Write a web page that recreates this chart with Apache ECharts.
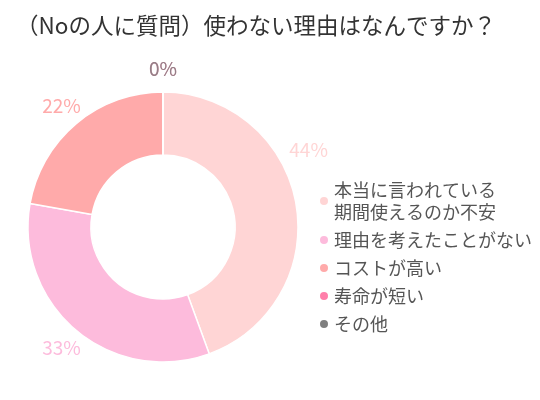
<!DOCTYPE html>
<html>
<head>
<meta charset="utf-8">
<script src="https://cdn.jsdelivr.net/npm/echarts@6/dist/echarts.min.js"></script>
<style>
  html, body { margin: 0; padding: 0; background: #fff; }
  #main { width: 540px; height: 400px; }
</style>
</head>
<body>
<div id="main"></div>
<script>
// 回答データ
var categories = ['本当に言われている\n期間使えるのか不安', '理由を考えたことがない', 'コストが高い', '寿命が短い', 'その他'];
var counts = [4, 3, 2, 0, 0];
var colors = ['#ffd5d5', '#fdbbdc', '#ffaaaa', '#ff7faa', '#7f7f7f'];

var total = counts.reduce(function (a, b) { return a + b; }, 0);
var FONT = '"Noto Sans CJK JP", "Noto Sans", sans-serif';

var pieData = categories.map(function (name, i) {
  var item = { name: name, value: counts[i], label: { color: colors[i] } };
  if (counts[i] === 0) {
    item.label.opacity = 0.85;
  }
  return item;
});

var myChart = echarts.init(document.getElementById('main'));
myChart.setOption({
  color: colors,
  animation: false,
  title: {
    text: '（Noの人に質問）使わない理由はなんですか？',
    left: 11,
    top: 9,
    textStyle: {
      fontFamily: FONT,
      fontSize: 22.5,
      fontWeight: 'normal',
      color: '#333'
    }
  },
  legend: {
    orient: 'vertical',
    left: 313,
    top: 174,
    icon: 'circle',
    itemWidth: 10,
    itemHeight: 10,
    itemGap: 6,
    textStyle: {
      fontFamily: FONT,
      fontSize: 18,
      lineHeight: 22,
      color: '#555'
    },
    data: categories
  },
  series: [
    {
      type: 'pie',
      center: [163, 227],
      radius: [72, 135],
      startAngle: 90,
      clockwise: true,
      avoidLabelOverlap: false,
      itemStyle: { borderColor: '#fff', borderWidth: 1.5 },
      label: {
        show: true,
        position: 'outside',
        fontFamily: FONT,
        fontSize: 19,
        distanceToLabelLine: 0,
        formatter: function (p) {
          return Math.round(p.value / total * 100) + '%';
        }
      },
      labelLine: { show: false, length: 23, length2: 0 },
      // ラベルは中央揃え、右側のラベルは凡例と重ならないよう上へ逃がす
      labelLayout: function (params) {
        if (params.dataIndex === 0) {
          return { align: 'center', dx: -10, dy: -50 };
        }
        return { align: 'center' };
      },
      emphasis: { disabled: true },
      data: pieData
    }
  ]
});
</script>
</body>
</html>
